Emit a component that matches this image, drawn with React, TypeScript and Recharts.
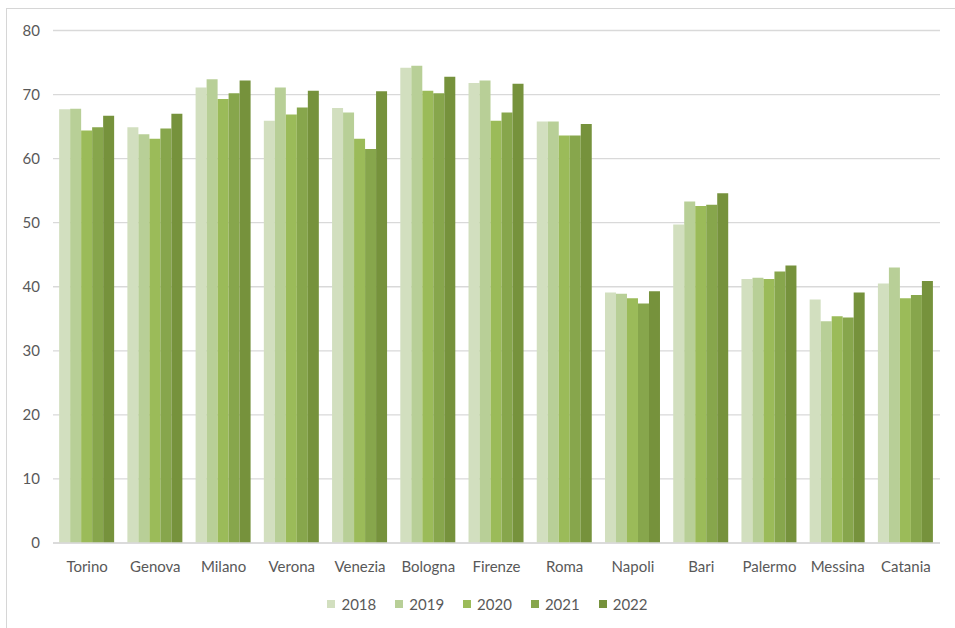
import React from "react";
import { BarChart, Bar, XAxis, YAxis, CartesianGrid, Legend } from "recharts";

const cities = ["Torino", "Genova", "Milano", "Verona", "Venezia", "Bologna", "Firenze", "Roma", "Napoli", "Bari", "Palermo", "Messina", "Catania"];
const v2018 = [67.7, 64.9, 71.1, 65.9, 67.9, 74.2, 71.8, 65.8, 39.1, 49.7, 41.2, 38.0, 40.5];
const v2019 = [67.8, 63.8, 72.4, 71.1, 67.2, 74.5, 72.2, 65.8, 38.9, 53.3, 41.4, 34.6, 43.0];
const v2020 = [64.4, 63.1, 69.3, 66.9, 63.1, 70.6, 65.9, 63.6, 38.2, 52.6, 41.2, 35.4, 38.2];
const v2021 = [64.9, 64.7, 70.2, 68.0, 61.5, 70.2, 67.2, 63.6, 37.4, 52.8, 42.4, 35.2, 38.7];
const v2022 = [66.7, 67.0, 72.2, 70.6, 70.5, 72.8, 71.7, 65.4, 39.3, 54.6, 43.3, 39.1, 40.9];
const years = ["2018", "2019", "2020", "2021", "2022"];
const yTicks = [0, 10, 20, 30, 40, 50, 60, 70, 80];

const colors = ["#d2dfbf", "#b8cf97", "#9bbb59", "#87a64c", "#76923c"];
const series = [v2018, v2019, v2020, v2021, v2022];

const data = cities.map((c, i) => {
  const row: any = { city: c };
  years.forEach((y, k) => (row[y] = series[k][i]));
  return row;
});

const FONT = "Lato, 'Open Sans', sans-serif";
const TEXT = "#595959";

const LegendContent = () => (
  <div style={{ display: "flex", justifyContent: "center", fontFamily: FONT, fontSize: 15, color: TEXT }}>
    {years.map((y, k) => (
      <div key={y} style={{ display: "flex", alignItems: "center", marginRight: k < years.length - 1 ? 19 : 0 }}>
        <div style={{ width: 8, height: 8, background: colors[k], marginRight: 6 }} />
        <span>{y}</span>
      </div>
    ))}
  </div>
);

export default function App() {
  return (
    <div style={{ position: "absolute", left: 0, top: 0, width: 955, height: 628, background: "#fff", overflow: "hidden" }}>
      <div style={{ position: "absolute", left: 6, top: 8, width: 970, height: 640, border: "1px solid #d6d6d6", boxSizing: "border-box" }} />
      <div style={{ position: "absolute", left: 0, top: 0 }}>
        <BarChart
          width={955}
          height={628}
          data={data}
          margin={{ top: 30.5, right: 15, left: 8, bottom: 55 }}
          barCategoryGap="9%"
          barGap={0}
        >
          <CartesianGrid vertical={false} stroke="#d9d9d9" strokeWidth={1.3} />
          <XAxis
            dataKey="city"
            height={30}
            tickLine={false}
            tickSize={0}
            tickMargin={18}
            axisLine={{ stroke: "#d9d9d9", strokeWidth: 1.3 }}
            tick={{ fill: TEXT, fontSize: 15, fontFamily: FONT }}
            interval={0}
          />
          <YAxis
            width={45}
            domain={[0, 80]}
            ticks={yTicks}
            tickLine={false}
            tickSize={0}
            axisLine={false}
            tickMargin={13}
            tick={{ fill: TEXT, fontSize: 15, fontFamily: FONT }}
          />
          <Legend
            layout="horizontal"
            verticalAlign="middle"
            align="center"
            wrapperStyle={{ top: 595, left: 0, width: 975 }}
            content={<LegendContent />}
          />
          {years.map((y, k) => (
            <Bar key={y} dataKey={y} fill={colors[k]} isAnimationActive={false} />
          ))}
        </BarChart>
      </div>
    </div>
  );
}
